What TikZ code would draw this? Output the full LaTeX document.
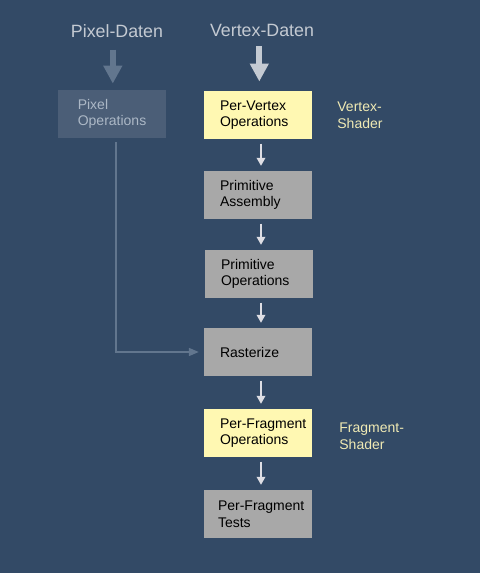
\documentclass[tikz,border=0pt]{standalone}
\usepackage{fontspec}
\setmainfont{Liberation Sans}
\usepackage{xcolor}
\usetikzlibrary{arrows.meta, positioning}

\definecolor{bgblue}{RGB}{51,74,102}
\definecolor{pixbox}{RGB}{75,94,119}
\definecolor{pixtext}{RGB}{172,184,198}
\definecolor{pixarrow}{RGB}{98,118,142}
\definecolor{vtxyellow}{RGB}{255,248,178}
\definecolor{stagegray}{RGB}{168,168,168}
\definecolor{shadertext}{RGB}{240,234,180}
\definecolor{titlegray}{RGB}{196,202,210}
\definecolor{flowwhite}{RGB}{222,222,228}

\begin{document}
\begin{tikzpicture}[x=1pt, y=-1pt,
    stage/.style={rectangle, fill=stagegray, minimum width=108pt, minimum height=48pt,
        text width=76pt, inner xsep=16pt, inner ysep=0pt, align=flush left,
        font=\fontsize{14}{16.5}\selectfont, text=black},
    shaderstage/.style={stage, fill=vtxyellow},
    pixstage/.style={stage, fill=pixbox, text=pixtext, text width=68pt, inner xsep=20pt},
    title/.style={inner sep=0pt, font=\fontsize{17.8}{20}\selectfont, text=titlegray},
    shader/.style={inner sep=0pt, align=left, font=\fontsize{14}{16.5}\selectfont, text=shadertext},
    flow/.style={draw=flowwhite, line width=1.8pt, -{Triangle[length=8pt, width=8.5pt]},
        shorten <=4.5pt, shorten >=5pt},
    bigarrow/.style={line width=6pt, -{Triangle[length=18pt, width=18pt]}}]
    % Hintergrund
    \fill[bgblue] (0,0) rectangle (480,573);
    \useasboundingbox (0,0) rectangle (480,573);

    % Eingaenge
    \node[title] (pixdata) at (117,31) {Pixel-Daten};
    \node[title] (vtxdata) at (262,30) {Vertex-Daten};

    % Stufen
    \node[pixstage] (pixop) at (111.8,113.8) {Pixel\\Operations};
    \node[shaderstage] (pervtx) at (258,115) {Per-Vertex\\Operations};
    \node[stage] (primasm) at (258,195) {Primitive\\Assembly};
    \node[stage] (primop) at (259,274) {Primitive\\Operations};
    \node[stage] (raster) at (258,352) {Rasterize};
    \node[shaderstage] (perfrag) at (258,433) {\mbox{Per-Fragment}\\Operations};
    \node[stage, inner xsep=14pt, text width=80pt] (fragtest) at (258,514) {\mbox{Per-Fragment}\\Tests};

    % Shader
    \node[shader, right=25pt of pervtx] (vtxshader) {Vertex-\\Shader};
    \node[shader, right=27pt of perfrag, yshift=-3pt] (fragshader) {Fragment-\\Shader};

    % Pfeile
    \draw[bigarrow, draw=pixarrow, shorten <=12pt, shorten >=6pt]
        ([xshift=1pt]pixop.north |- pixdata.south) -- ([xshift=1pt]pixop.north);
    \draw[bigarrow, draw=titlegray, shorten <=9.7pt, shorten >=9.3pt]
        ([xshift=1.3pt]pervtx.north |- vtxdata.south) -- ([xshift=1.3pt]pervtx.north);
    \draw[flow] ([xshift=3pt]pervtx.south) -- ([xshift=3pt]primasm.north);
    \draw[flow] ([xshift=3pt]primasm.south) -- ([xshift=2pt]primop.north);
    \draw[flow] ([xshift=2pt]primop.south) -- ([xshift=3pt]raster.north);
    \draw[flow] ([xshift=3pt]raster.south) -- ([xshift=3pt]perfrag.north);
    \draw[flow] ([xshift=3pt]perfrag.south) -- ([xshift=3pt]fragtest.north);
    \draw[draw=pixarrow, line width=1.6pt, -{Triangle[length=10pt, width=8pt]},
        shorten <=4pt, shorten >=5pt] ([xshift=4pt]pixop.south) |- (raster.west);
\end{tikzpicture}
\end{document}
